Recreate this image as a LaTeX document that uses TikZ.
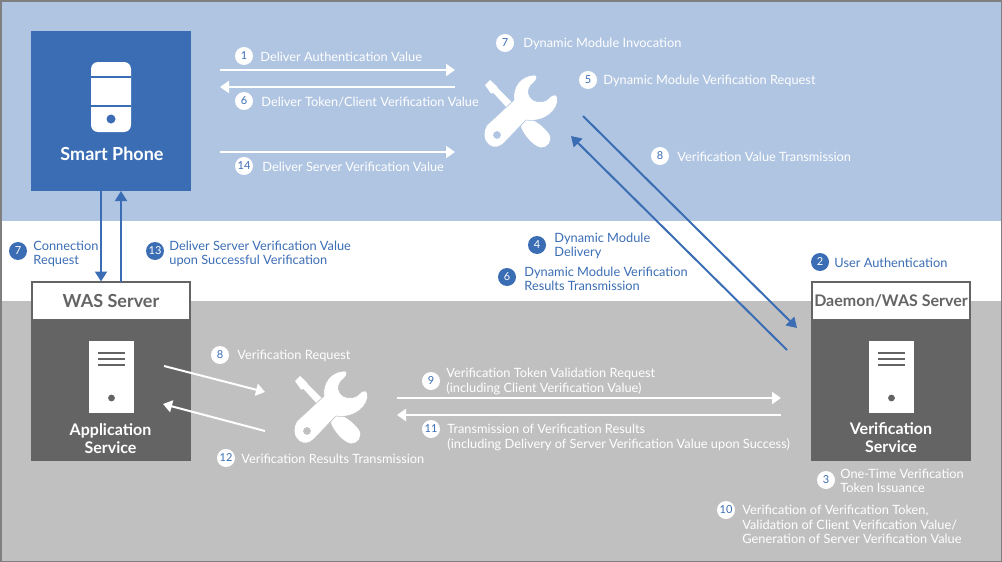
\documentclass[tikz,border=0pt]{standalone}
\usepackage{fontspec}
\setmainfont{Lato}
\usepackage{xcolor}
\usetikzlibrary{arrows.meta,positioning}
\definecolor{skyband}{HTML}{B0C5E2}
\definecolor{greyband}{HTML}{C0C0C0}
\definecolor{primary}{HTML}{3B6DB4}
\definecolor{darkbox}{HTML}{646464}
\definecolor{frameline}{HTML}{7F7F7F}
\tikzset{
    pics/toolicon/.style={code={
        \fill[white] (0,10) -- (5,5) -- (11.5,11) -- (13,13.5) -- (43,43) .. controls (51,46) and (59,52) .. (64,59) .. controls (68,66) and (62,73) .. (56,72.5) .. controls (48,71) and (39,60) .. (36,52) -- (37,49) -- (8.5,18) -- (6,18.5) -- cycle;
        \path[fill=white,even odd rule,draw=#1,line width=0.6pt] (50,0) .. controls (37,0) and (27,11) .. (29,25) -- (2,50) .. controls (-2.5,57) and (-1.5,66) .. (4,70) .. controls (9,74) and (15,72) .. (19,68) -- (41,45) .. controls (59,48) and (74,35) .. (72.5,23) .. controls (72,19.5) and (68.5,19) .. (67,20.5) -- (61,25.5) .. controls (56,28) and (48,27) .. (45,22) .. controls (42,17) and (43,12) .. (49,7.5) .. controls (52,4.5) and (53,0.5) .. (50,0) -- cycle (12,60) circle (3.5);
    }},
    pics/servericon/.style={code={
        \fill[white] (0,0) rectangle (45,72);
        \draw[darkbox,line width=2pt] (9,12) -- (36,12) (9,18) -- (36,18) (9,24) -- (36,24);
        \fill[darkbox] (22.5,57) circle (3.4);
    }}
}
\begin{document}
\begin{tikzpicture}[
    x=1pt,y=-1pt,
    node distance=7pt,
    hostbox/.style={minimum width=160pt,inner sep=0,outer sep=0,fill=darkbox},
    hosthead/.style={draw=darkbox,line width=2pt,fill=white,minimum width=158pt,minimum height=38pt,inner sep=0,outer sep=0,text=darkbox,font=\fontsize{18}{18}\selectfont\bfseries},
    hosttext/.style={text=white,align=center,inner sep=0,font=\fontsize{16}{18}\selectfont\bfseries},
    bdgw/.style={circle,fill=white,text=primary,minimum size=18pt,inner sep=0,font=\fontsize{11}{11}\selectfont},
    bdgb/.style={circle,fill=primary,text=white,minimum size=18pt,inner sep=0,font=\fontsize{11}{11}\selectfont},
    lblw/.style={text=white,align=left,inner sep=0,yshift=-0.7pt,font=\fontsize{12.8}{14.5}\selectfont},
    lblb/.style={text=primary,align=left,inner sep=0,yshift=-0.7pt,font=\fontsize{12.8}{14.5}\selectfont},
    wharr/.style={-{Triangle[length=9pt,width=12pt]},line width=2pt,draw=white},
    bharr/.style={-{Triangle[length=10pt,width=12pt]},line width=2pt,draw=primary}
]
    % backgrounds
    \fill[skyband] (0,0) rectangle (1002,221);
    \fill[greyband] (0,301) rectangle (1002,562);
    \draw[frameline,line width=1.5pt] (0.75,0.75) rectangle (1001.25,561.25);

    % smart phone
    \node[hostbox,fill=primary,minimum height=160pt] (phone) at (111,111) {};
    \fill[white,rounded corners=7pt] (91,62) rectangle (131,132);
    \draw[primary,line width=1.5pt] (91,77) -- (131,77) (91,106) -- (131,106);
    \fill[primary] (111,119) circle (4.5);
    \node[hosttext,font=\fontsize{18}{20}\selectfont\bfseries] (phonetext) at (112,154) {Smart Phone};

    % WAS server
    \node[hostbox,minimum height=140pt] (wasbody) at (111,391) {};
    \node[hosthead] (washead) at (111,300.5) {\raisebox{-1.5pt}{WAS Server}};
    \pic (wassrv) at (89,341) {servericon};
    \node[hosttext] (wastext) at (110.5,439) {Application\\Service};

    % daemon server
    \node[hostbox,minimum height=140pt] (dmnbody) at (891,391) {};
    \node[hosthead,font=\fontsize{16}{18}\selectfont\bfseries] (dmnhead) at (891,300.5) {\raisebox{-0.8pt}{Daemon/WAS Server}};
    \pic (dmnsrv) at (869,341) {servericon};
    \node[hosttext] (dmntext) at (891,438) {Verification\\Service};

    % tools
    \pic (uptool) at (485,75) {toolicon=skyband};
    \pic (lowtool) at (295,371) {toolicon=greyband};

    % free ends
    \coordinate (a1s) at (220,70);
    \coordinate (a1e) at (455,70);
    \coordinate (a6s) at (455,87);
    \coordinate (a6e) at (220,87);
    \coordinate (a14s) at (220,152);
    \coordinate (a14e) at (455,152);
    \coordinate (d5s) at (583,116);
    \coordinate (d5e) at (797,328);
    \coordinate (d4s) at (787,350);
    \coordinate (d4e) at (571,136);
    \coordinate (l8s) at (164,366);
    \coordinate (l8e) at (265,392);
    \coordinate (l12s) at (265,431);
    \coordinate (l12e) at (163,404);
    \coordinate (a9s) at (397,398);
    \coordinate (a9e) at (781,398);
    \coordinate (a11s) at (781,415);
    \coordinate (a11e) at (397,415);

    \draw[wharr] (a1s) -- (a1e);
    \draw[wharr] (a6s) -- (a6e);
    \draw[wharr] (a14s) -- (a14e);
    \draw[wharr] (l8s) -- (l8e);
    \draw[wharr] (l12s) -- (l12e);
    \draw[wharr] (a9s) -- (a9e);
    \draw[wharr] (a11s) -- (a11e);
    \draw[bharr] (d5s) -- (d5e);
    \draw[bharr] (d4s) -- (d4e);
    \draw[bharr] ([xshift=-10pt]phone.south) -- ([xshift=-10pt]washead.north);
    \draw[bharr] ([xshift=10pt]washead.north) -- ([xshift=10pt]phone.south);

    % sky band labels
    \node[bdgw] (b1) at (244,56) {1};
    \node[lblw,right=of b1] (l1) {Deliver Authentication Value};
    \node[bdgw] (b6) at (244,101) {6};
    \node[lblw,right=8pt of b6] (l6) {Deliver Token/Client Verification Value};
    \node[bdgw] (b14) at (244,166) {14};
    \node[lblw,right=9pt of b14] (l14) {Deliver Server Verification Value};
    \node[bdgw] (b7) at (505,43) {7};
    \node[lblw,right=9pt of b7] (l7) {Dynamic Module Invocation};
    \node[bdgw] (b5) at (588,80) {5};
    \node[lblw,right=6pt of b5] (l5) {Dynamic Module Verification Request};
    \node[bdgw] (b8) at (660,156) {8};
    \node[lblw,right=8pt of b8] (l8) {Verification Value Transmission};

    % white band labels
    \node[bdgb] (c7) at (18,251) {7};
    \node[lblb,right=6pt of c7,yshift=-2pt] (m7) {Connection\\Request};
    \node[bdgb] (c13) at (155,251) {13};
    \node[lblb,right=5pt of c13,yshift=-2pt] (m13) {Deliver Server Verification Value\\upon Successful Verification};
    \node[bdgb] (c4) at (537,245) {4};
    \node[lblb,right=8pt of c4] (m4) {Dynamic Module\\Delivery};
    \node[bdgb] (c6) at (507,277) {6};
    \node[lblb,right=8pt of c6,yshift=-1pt] (m6) {Dynamic Module Verification\\Results Transmission};
    \node[bdgb] (c2) at (820,262) {2};
    \node[lblb,right=5pt of c2] (m2) {User Authentication};

    % grey band labels
    \node[bdgw] (g8) at (220,355) {8};
    \node[lblw,right=8pt of g8] (n8) {Verification Request};
    \node[bdgw] (g12) at (226,458) {12};
    \node[lblw,right=6pt of g12] (n12) {Verification Results Transmission};
    \node[bdgw] (g9) at (431,381) {9};
    \node[lblw,right=6pt of g9] (n9) {Verification Token Validation Request\\(including Client Verification Value)};
    \node[bdgw] (g11) at (431,429) {11};
    \node[lblw,right=7pt of g11,yshift=-8pt] (n11) {Transmission of Verification Results\\(including Delivery of Server Verification Value upon Success)};
    \node[bdgw] (g3) at (826,480) {3};
    \node[lblw,right=5pt of g3] (n3) {One-Time Verification\\Token Issuance};
    \node[bdgw] (g10) at (726,510) {10};
    \node[lblw,right=7pt of g10,yshift=-14pt] (n10) {Verification of Verification Token,\\Validation of Client Verification Value/\\Generation of Server Verification Value};
\end{tikzpicture}
\end{document}
